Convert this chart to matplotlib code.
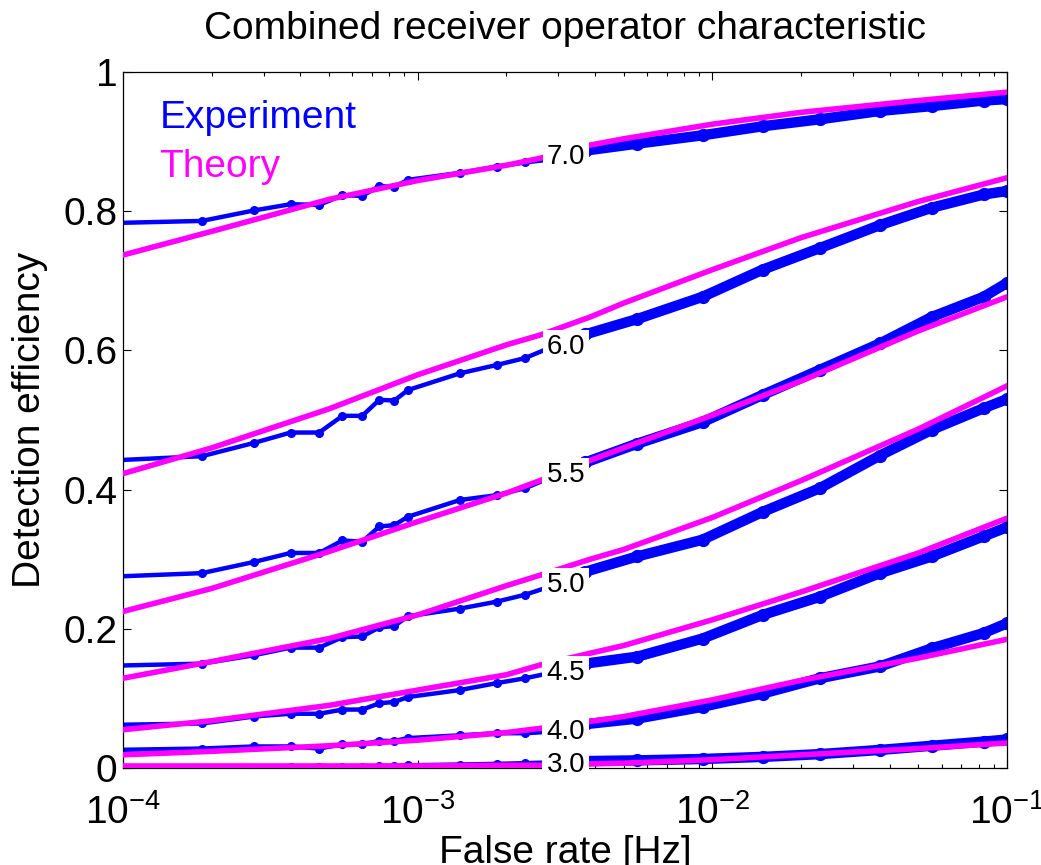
# -*- coding: utf-8 -*-
"""
Combined receiver operator characteristic: measured detection efficiency
versus false rate for several thresholds, with the theory prediction on top.
"""

import numpy as np
import matplotlib
matplotlib.use("Agg")
import matplotlib.pyplot as plt

plt.rcParams["font.family"] = ["Liberation Sans", "DejaVu Sans"]
plt.rcParams["mathtext.fontset"] = "custom"
plt.rcParams["mathtext.rm"] = "Liberation Sans"
plt.rcParams["mathtext.it"] = "Liberation Sans:italic"

# ── Data ───────────────────────────────────────────────────────────────────────

OBS_TIME_S = 10800.0          # false rate = k / observation time
EXP_COUNTS = [1, 2, 3, 4, 5, 6, 7, 8, 9, 10, 15, 20, 25, 30,
              40, 60, 100, 160, 250, 400, 600, 900, 1080]
SPLIT = 14                    # index of first point right of the labels

exp_70 = [0.783, 0.786, 0.801, 0.810, 0.809, 0.823, 0.822, 0.836, 0.835, 0.845,
          0.855, 0.864, 0.870, 0.874, 0.887, 0.897, 0.909, 0.922, 0.932, 0.944,
          0.951, 0.959, 0.961]
exp_60 = [0.442, 0.448, 0.467, 0.482, 0.482, 0.506, 0.506, 0.529, 0.528, 0.543,
          0.567, 0.579, 0.589, 0.603, 0.623, 0.645, 0.677, 0.716, 0.747, 0.780,
          0.805, 0.824, 0.829]
exp_55 = [0.275, 0.280, 0.296, 0.309, 0.309, 0.327, 0.325, 0.347, 0.349, 0.361,
          0.385, 0.392, 0.402, 0.416, 0.439, 0.466, 0.497, 0.536, 0.572, 0.610,
          0.648, 0.677, 0.697]
exp_50 = [0.147, 0.150, 0.162, 0.173, 0.173, 0.188, 0.189, 0.202, 0.204, 0.218,
          0.229, 0.239, 0.249, 0.260, 0.282, 0.304, 0.328, 0.368, 0.402, 0.449,
          0.486, 0.517, 0.530]
exp_45 = [0.062, 0.064, 0.074, 0.078, 0.078, 0.084, 0.084, 0.093, 0.095, 0.102,
          0.112, 0.122, 0.129, 0.136, 0.150, 0.160, 0.186, 0.220, 0.246, 0.280,
          0.304, 0.333, 0.346]
exp_40 = [0.026, 0.028, 0.031, 0.031, 0.028, 0.034, 0.034, 0.039, 0.039, 0.043,
          0.047, 0.050, 0.050, 0.052, 0.063, 0.071, 0.088, 0.107, 0.129, 0.146,
          0.172, 0.194, 0.208]
exp_30 = [0.000, 0.000, 0.000, 0.001, 0.001, 0.002, 0.002, 0.003, 0.003, 0.004,
          0.005, 0.006, 0.007, 0.008, 0.010, 0.011, 0.013, 0.016, 0.020, 0.026,
          0.032, 0.038, 0.041]

THEORY_RATE = [1e-4, 2e-4, 5e-4, 1e-3, 2e-3, 2.6e-3, 3.85e-3, 5e-3, 1e-2, 2e-2, 5e-2, 1e-1]
th_70 = [0.737, 0.771, 0.817, 0.844, 0.866, 0.876, 0.895, 0.904, 0.925, 0.942, 0.959, 0.971]
th_60 = [0.423, 0.460, 0.516, 0.565, 0.608, 0.622, 0.648, 0.668, 0.716, 0.762, 0.814, 0.848]
th_55 = [0.225, 0.258, 0.311, 0.354, 0.395, 0.413, 0.442, 0.460, 0.507, 0.556, 0.628, 0.677]
th_50 = [0.129, 0.153, 0.186, 0.220, 0.262, 0.277, 0.300, 0.314, 0.360, 0.413, 0.487, 0.549]
th_45 = [0.055, 0.068, 0.090, 0.112, 0.134, 0.148, 0.165, 0.176, 0.213, 0.253, 0.309, 0.359]
th_40 = [0.019, 0.024, 0.032, 0.040, 0.051, 0.057, 0.067, 0.074, 0.098, 0.126, 0.158, 0.185]
th_30 = [0.003, 0.003, 0.003, 0.003, 0.004, 0.004, 0.006, 0.007, 0.012, 0.019, 0.028, 0.036]

THRESHOLDS = ["7.0", "6.0", "5.5", "5.0", "4.5", "4.0", "3.0"]
LABEL_RATE = 3.185e-3
LABEL_Y = [0.878, 0.605, 0.421, 0.263, 0.136, 0.052, 0.004]

EXPERIMENT = [exp_70, exp_60, exp_55, exp_50, exp_45, exp_40, exp_30]
THEORY = [th_70, th_60, th_55, th_50, th_45, th_40, th_30]

Y_TICKS = [0, 0.2, 0.4, 0.6, 0.8, 1]
Y_TICKLABELS = ["0", "0.2", "0.4", "0.6", "0.8", "1"]

BLUE = "#0000ff"
MAGENTA = "#ff00ff"

# ── Plot ───────────────────────────────────────────────────────────────────────

fig = plt.figure(figsize=(10.41, 8.65), dpi=100)
ax = fig.add_axes([0.1182, 0.1121, 0.8492, 0.8047])

rate = np.array(EXP_COUNTS) / OBS_TIME_S
for eff in EXPERIMENT:
    eff = np.array(eff)
    # sparse points left of the labels, dense marker band to the right
    ax.plot(rate[:SPLIT + 1], eff[:SPLIT + 1], "-o", color=BLUE,
            lw=3.2, ms=5.5, zorder=2)
    ax.plot(rate[SPLIT:], eff[SPLIT:], "-o", color=BLUE,
            lw=7.5, ms=8.5, zorder=2)

for eff in THEORY:
    ax.plot(THEORY_RATE, eff, "-", color=MAGENTA, lw=4, zorder=3)

for name, y in zip(THRESHOLDS, LABEL_Y):
    ax.text(LABEL_RATE, y, name, ha="center", va="center", fontsize=20,
            bbox=dict(boxstyle="square,pad=0.15", fc="white", ec="none"),
            zorder=6, clip_on=False)

ax.set_xscale("log")
ax.set_xlim(1e-4, 1e-1)
ax.set_ylim(0, 1)
ax.set_yticks(Y_TICKS)
ax.set_yticklabels(Y_TICKLABELS)

ax.tick_params(which="both", direction="in", top=True, right=True,
               labelsize=28, width=0.8)
ax.tick_params(which="major", length=6)
ax.tick_params(which="minor", length=3)
ax.tick_params(axis="x", which="major", pad=19)
ax.tick_params(axis="y", which="major", pad=4)
for sp in ax.spines.values():
    sp.set_linewidth(0.9)

ax.set_xlabel("False rate [Hz]", fontsize=28, labelpad=2)
ax.set_ylabel("Detection efficiency", fontsize=28, labelpad=11)
ax.set_title("Combined receiver operator characteristic", fontsize=28, pad=24)

h_exp = plt.Line2D([], [], color=BLUE)
h_th = plt.Line2D([], [], color=MAGENTA)
leg = ax.legend([h_exp, h_th], ["Experiment", "Theory"], loc="upper left",
                bbox_to_anchor=(0.041, 0.96), fontsize=28, frameon=False,
                handlelength=0, handletextpad=0, borderpad=0,
                borderaxespad=0, labelspacing=0.33)
for txt, col in zip(leg.get_texts(), [BLUE, MAGENTA]):
    txt.set_color(col)
for h in leg.legend_handles:
    h.set_visible(False)

fig.savefig("out.png", dpi=100)
plt.close(fig)
